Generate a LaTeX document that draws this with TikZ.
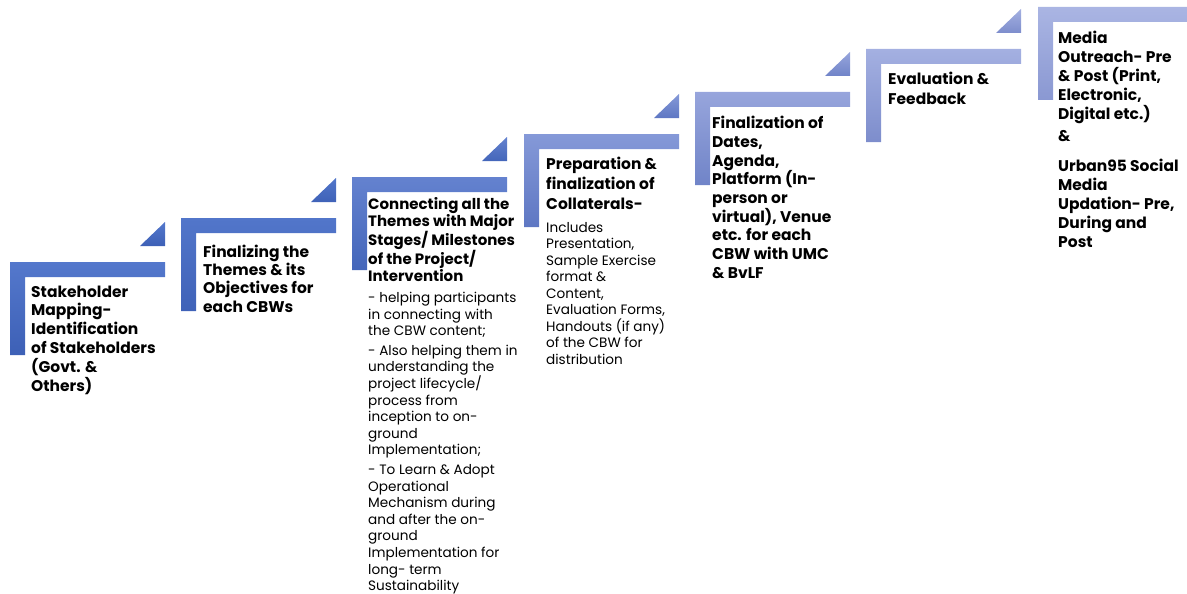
\documentclass[tikz,border=0pt]{standalone}
\usepackage{fontspec}
\setmainfont{Poppins}
\definecolor{s1t}{HTML}{5478CC}\definecolor{s1b}{HTML}{3D60B6}
\definecolor{s2t}{HTML}{5276CA}\definecolor{s2b}{HTML}{3F62B8}
\definecolor{s3t}{HTML}{6482CF}\definecolor{s3b}{HTML}{4466BA}
\definecolor{s4t}{HTML}{8599D8}\definecolor{s4b}{HTML}{5E77C3}
\definecolor{s5t}{HTML}{97A5DC}\definecolor{s5b}{HTML}{7084C8}
\definecolor{s6t}{HTML}{A4B0E1}\definecolor{s6b}{HTML}{7D8DCC}
\definecolor{s7t}{HTML}{AAB5E3}\definecolor{s7b}{HTML}{8A98D2}
\newcommand\stairL[4]{%
  \shade[top color=#3,bottom color=#4] (#1,#2) -- ++(155,0) -- ++(0,15) -- ++(-140,0) -- ++(0,78) -- ++(-15,0) -- cycle;}
\newcommand\stairT[4]{%
  \shade[top color=#3,bottom color=#4] (#1+130,#2-16) -- ++(25,0) -- ++(0,-24) -- cycle;}
\tikzset{
  head/.style={anchor=north west, inner sep=0pt, align=left, text=black,
    font=\bfseries\fontsize{15.5}{#1}\selectfont},
  head/.default=18.8,
  body/.style={anchor=north west, inner sep=0pt, align=left, text=black,
    font=\fontsize{13.6}{#1}\selectfont},
  body/.default=16.8,
}
\begin{document}
\begin{tikzpicture}[x=1pt,y=-1pt]
\useasboundingbox (0,0) rectangle (1187,594);
\begin{scope}
\clip (0,0) rectangle (1187,594);
\stairL{10}{262}{s1t}{s1b}\stairT{10}{262}{s1t}{s1b}
\stairL{181}{218}{s2t}{s2b}\stairT{181}{218}{s2t}{s2b}
\stairL{352}{177}{s3t}{s3b}\stairT{352}{177}{s3t}{s3b}
\stairL{524}{134}{s4t}{s4b}\stairT{524}{134}{s4t}{s4b}
\stairL{695}{92}{s5t}{s5b}\stairT{695}{92}{s5t}{s5b}
\stairL{866}{49}{s6t}{s6b}\stairT{866}{49}{s6t}{s6b}
\stairL{1038}{7}{s7t}{s7b}
\end{scope}
\node[head=18.8] (t1) at (31,285.5) {Stakeholder\\Mapping-\\Identification\\of Stakeholders\\(Govt. \&\\Others)};
\node[head=18.3] (t2) at (203,244.5) {Finalizing the\\Themes \& its\\Objectives for\\each CBWs};
\node[head=17, font=\bfseries\fontsize{15}{17}\selectfont] (t3) at (368,197) {Connecting all the\\Themes with Major\\Stages/ Milestones\\of the Project/\\Intervention};
\node[body=16.6] (b3) at (368,292) {- helping participants\\in connecting with\\the CBW content;\\[3pt]- Also helping them in\\understanding the\\project lifecycle/\\process from\\inception to on-\\ground\\Implementation;\\[3pt]- To Learn \& Adopt\\Operational\\Mechanism during\\and after the on-\\ground\\Implementation for\\long- term\\Sustainability};
\node[head=20] (t4) at (546,157) {Preparation \&\\finalization of\\Collaterals-};
\node[body=16.5] (b4) at (546,222) {Includes\\Presentation,\\Sample Exercise\\format \&\\Content,\\Evaluation Forms,\\Handouts (if any)\\of the CBW for\\distribution};
\node[head=18.7] (t5) at (712,116) {Finalization of\\Dates,\\Agenda,\\Platform (In-\\person or\\virtual), Venue\\etc. for each\\CBW with UMC\\\& BvLF};
\node[head=20] (t6) at (888,72) {Evaluation \&\\Feedback};
\node[head=19] (t7) at (1058,31) {Media\\Outreach- Pre\\\& Post (Print,\\Electronic,\\Digital etc.)\\[3pt]\&\\[11pt]Urban95 Social\\Media\\Updation- Pre,\\During and\\Post};
\end{tikzpicture}
\end{document}
